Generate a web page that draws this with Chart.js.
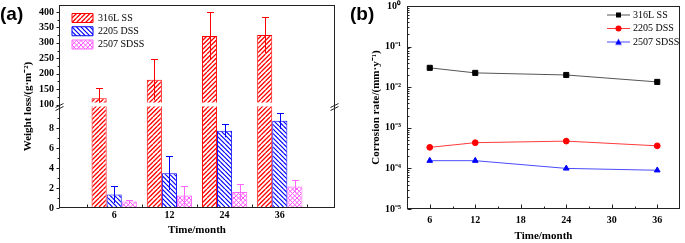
<!DOCTYPE html>
<html>
<head>
<meta charset="utf-8">
<script src="https://cdn.jsdelivr.net/npm/chart.js@4.4.1/dist/chart.umd.min.js"></script>
<style>
  html, body { margin: 0; padding: 0; background: #fff; }
  #wrap { position: relative; width: 685px; height: 243px; overflow: hidden; }
  canvas { position: absolute; top: 0; }
  #chartA { left: 0; }
  #chartB { left: 345px; }
  .tag { position: absolute; top: 3px; font: bold 19px/22px 'Liberation Sans', Arial, sans-serif; color: #000; }
</style>
</head>
<body>
<div id="wrap">
  <canvas id="chartA" width="345" height="243"></canvas>
  <canvas id="chartB" width="340" height="243"></canvas>
  <div class="tag" style="left:0">(a)</div>
  <div class="tag" style="left:350px">(b)</div>
</div>
<script>
const serif = "'Liberation Serif', 'Times New Roman', serif";

// (a) weight loss, g/m2
const months = ['6', '12', '24', '36'];
const loss316 = [120, 180, 322, 325];
const err316 = [34, 66, 77, 58];
const loss2205 = [1.35, 3.5, 7.75, 8.75];
const err2205 = [0.85, 1.7, 0.65, 0.8];
const loss2507 = [0.65, 1.25, 1.6, 2.15];
const err2507 = [0.15, 1.0, 0.8, 0.65];
const upperTicks = [100, 150, 200, 250, 300, 350, 400];
const lowerTicks = [0, 2, 4, 6, 8];

// (b) corrosion rate, mm/y
const rateMonths = [6, 12, 24, 36];
const rate316 = [0.030, 0.0225, 0.020, 0.0135];
const rate2205 = [3.3e-4, 4.3e-4, 4.7e-4, 3.6e-4];
const rate2507 = [1.55e-4, 1.55e-4, 1.0e-4, 9.0e-5];
const monthTicks = [6, 12, 18, 24, 30, 36];
const decadeTicks = [1e-5, 1e-4, 1e-3, 1e-2, 1e-1, 1];

const seriesNames = ['316L SS', '2205 DSS', '2507 SDSS'];

Chart.defaults.font.family = serif;
Chart.defaults.color = '#000';
Chart.defaults.animation = false;

// diagonal hatch fills for the bars (tile 9px, two lines per tile)
function hatch(color, kind, width) {
    const n = 9, gap = 4.5;
    const c = document.createElement('canvas');
    c.width = n; c.height = n;
    const g = c.getContext('2d');
    g.fillStyle = '#fff';
    g.fillRect(0, 0, n, n);
    g.strokeStyle = color;
    g.lineWidth = width;
    g.beginPath();
    for (let off = -2 * n; off <= 2 * n; off += gap) {
        if (kind !== 'back') { g.moveTo(off, n); g.lineTo(off + n, 0); }
        if (kind !== 'fwd') { g.moveTo(off, 0); g.lineTo(off + n, n); }
    }
    g.stroke();
    return g.createPattern(c, 'repeat');
}

function withMinors(major, max) {
    const step = major[1] - major[0];
    const vals = [];
    major.forEach(v => {
        vals.push(v);
        if (v + step / 2 < max) vals.push(v + step / 2);
    });
    return vals;
}

// no automatic label padding around the plot area
function noPad(s) {
    s.paddingTop = 0; s.paddingBottom = 0;
    s.paddingLeft = 0; s.paddingRight = 0;
}

const SUP = {'-': '\u207B', '0': '\u2070', '1': '\u00B9', '2': '\u00B2', '3': '\u00B3', '4': '\u2074', '5': '\u2075'};
const sup = n => String(n).split('').map(ch => SUP[ch]).join('');

// frame, tick marks and axis break
const axisFrame = {
    id: 'axisFrame',
    afterDatasetsDraw(chart, args, opts) {
        const {ctx, chartArea: a} = chart;
        const L = Math.round(a.left) + 0.5, R = Math.round(a.right) - 0.5;
        const T = Math.round(a.top) + 0.5, B = Math.round(a.bottom) - 0.5;
        ctx.save();
        ctx.strokeStyle = '#222';
        ctx.lineWidth = 1;
        ctx.strokeRect(L, T, R - L, B - T);
        ctx.beginPath();
        (opts.marks || []).forEach(m => {
            const s = chart.scales[m.id];
            const pts = [];
            const px = s.ticks.map((t, i) => s.getPixelForTick(i));
            if (m.at !== 'mid') {
                s.ticks.forEach((t, i) => pts.push({p: px[i], len: t.label !== '' ? opts.major : opts.minor}));
            }
            if (m.at !== 'ticks') {
                for (let i = 0; i < px.length - 1; i++) {
                    pts.push({p: (px[i] + px[i + 1]) / 2, len: m.at === 'mid' ? opts.major : opts.minor});
                }
            }
            const sign = m.dir === 'in' ? 1 : -1;
            pts.forEach(({p, len}) => {
                const q = Math.round(p) + 0.5;
                if (s.isHorizontal()) {
                    ctx.moveTo(q, B); ctx.lineTo(q, B - sign * len);
                } else {
                    ctx.moveTo(L, q); ctx.lineTo(L + sign * len, q);
                }
            });
        });
        if (opts.breakScale) {
            const y = chart.scales[opts.breakScale].bottom;
            [L, R].forEach(x => {
                ctx.moveTo(x - 4, y + 3); ctx.lineTo(x + 4, y - 1);
                ctx.moveTo(x - 4, y + 6); ctx.lineTo(x + 4, y + 2);
            });
        }
        ctx.stroke();
        ctx.restore();
    }
};

// vertical error bars from dataset.errors
const errorBars = {
    id: 'errorBars',
    afterDatasetsDraw(chart) {
        const ctx = chart.ctx;
        const a = chart.chartArea;
        chart.data.datasets.forEach((ds, i) => {
            if (!ds.errors) return;
            const meta = chart.getDatasetMeta(i);
            const ys = chart.scales[meta.yAxisID];
            const clip = ds.clip || {};
            ctx.save();
            ctx.beginPath();
            const top = ys.top - (clip.top || 0);
            const bottom = ys.bottom + (clip.bottom || 0);
            ctx.rect(a.left, top, a.right - a.left, bottom - top);
            ctx.clip();
            ctx.strokeStyle = ds.borderColor;
            ctx.lineWidth = 1;
            ctx.beginPath();
            ds.data.forEach((v, j) => {
                if (v === null) return;
                const e = ds.errors[j];
                const x = Math.round(meta.data[j].x) + 0.5;
                const yHi = Math.round(ys.getPixelForValue(v + e)) + 0.5;
                const yLo = ys.getPixelForValue(v - e);
                ctx.moveTo(x, yLo); ctx.lineTo(x, yHi);
                ctx.moveTo(x - 3.5, yHi); ctx.lineTo(x + 3.5, yHi);
            });
            ctx.stroke();
            ctx.restore();
        });
    }
};

// one y title spanning both stacked axes
const sideTitle = {
    id: 'sideTitle',
    afterDraw(chart, args, opts) {
        const {ctx, chartArea: a} = chart;
        ctx.save();
        ctx.translate(opts.x, (a.top + a.bottom) / 2);
        ctx.rotate(-Math.PI / 2);
        ctx.font = 'bold 11px ' + serif;
        ctx.fillStyle = '#000';
        ctx.textAlign = 'center';
        ctx.textBaseline = 'middle';
        ctx.fillText(opts.text, 0, 0);
        ctx.restore();
    }
};

// move the in-plot legend to its spot
const legendSpot = {
    id: 'legendSpot',
    afterLayout(chart, args, opts) {
        const lg = chart.legend;
        if (!lg) return;
        lg.left = opts.x;
        lg.top = opts.y;
        lg.right = lg.left + lg.width;
        lg.bottom = lg.top + lg.height;
    }
};

const pad = arr => [null, ...arr, null];
const catLabels = ['', ...months, ''];
const tickFont = {size: 10, weight: 'bold'};

const redFill = hatch('#ff0000', 'fwd', 1.3);
const blueFill = hatch('#0000ff', 'back', 1.2);
const pinkFill = hatch('#ff55ff', 'cross', 1);

const barBase = {borderWidth: 1, barPercentage: 1, categoryPercentage: 0.82};

new Chart(document.getElementById('chartA'), {
    type: 'bar',
    data: {
        labels: catLabels,
        datasets: [
            {...barBase, label: seriesNames[0], data: pad(loss316), errors: pad(err316), yAxisID: 'yUp', stack: 'r',
                backgroundColor: redFill, borderColor: '#ff0000', clip: {left: 0, right: 0, top: 0, bottom: -2}},
            {...barBase, label: seriesNames[1], data: pad(loss2205), errors: pad(err2205), yAxisID: 'yLow', stack: 'b',
                backgroundColor: blueFill, borderColor: '#0000ff', clip: 0},
            {...barBase, label: seriesNames[2], data: pad(loss2507), errors: pad(err2507), yAxisID: 'yLow', stack: 'p',
                backgroundColor: pinkFill, borderColor: '#ff66ff', clip: 0},
            // lower piece of the 316L bars, below the axis break
            {...barBase, label: seriesNames[0], data: pad(loss316), yAxisID: 'yLow', stack: 'r',
                backgroundColor: redFill, borderColor: '#ff0000', clip: {left: 0, right: 0, top: -2, bottom: 0}}
        ]
    },
    options: {
        responsive: false,
        events: [],
        layout: {padding: {top: 5, right: 10, left: 0, bottom: 0}},
        scales: {
            x: {
                type: 'category',
                offset: false,
                grid: {display: false, drawTicks: false},
                border: {display: false},
                ticks: {autoSkip: false, maxRotation: 0, padding: 1.5, font: tickFont},
                title: {display: true, text: 'Time/month', font: {size: 11, weight: 'bold'}, padding: {top: 0, bottom: 6}},
                afterFit: s => { s.height = 35; noPad(s); }
            },
            yLow: {
                type: 'linear', position: 'left', stack: 'loss', stackWeight: 103.5, stacked: false,
                min: 0, max: 10.39,
                grid: {display: false, drawTicks: false},
                border: {display: false},
                afterBuildTicks: s => { s.ticks = withMinors(lowerTicks, s.max).map(v => ({value: v})); },
                ticks: {autoSkip: false, padding: 5, font: tickFont, callback: v => lowerTicks.includes(v) ? String(v) : ''},
                afterFit: s => { s.width = 59; noPad(s); }
            },
            yUp: {
                type: 'linear', position: 'left', stack: 'loss', stackWeight: 99.5, stacked: false,
                min: 100, max: 422.7,
                grid: {display: false, drawTicks: false},
                border: {display: false},
                afterBuildTicks: s => { s.ticks = withMinors(upperTicks, s.max).map(v => ({value: v})); },
                ticks: {autoSkip: false, padding: 5, font: tickFont, callback: v => upperTicks.includes(v) ? String(v) : ''},
                afterFit: s => { s.width = 59; noPad(s); }
            }
        },
        plugins: {
            tooltip: {enabled: false},
            legend: {
                position: 'chartArea',
                align: 'start',
                labels: {
                    boxWidth: 21, boxHeight: 9, padding: 3.25, color: '#000',
                    font: {size: 10},
                    filter: item => item.datasetIndex < 3
                }
            },
            legendSpot: {x: 68.75, y: 9.75},
            sideTitle: {x: 28, text: 'Weight loss/(g\u00B7m\u207B\u00B2)'},
            axisFrame: {
                major: 3, minor: 2, breakScale: 'yUp',
                marks: [
                    {id: 'yUp', dir: 'out', at: 'ticks'},
                    {id: 'yLow', dir: 'out', at: 'ticks'},
                    {id: 'x', dir: 'in', at: 'mid'}
                ]
            }
        }
    },
    plugins: [errorBars, axisFrame, sideTitle, legendSpot]
});

// (b) line chart, log scale
const lineStyles = [
    {line: '#555', fill: '#000', shape: 'rect', radius: 3.6},
    {line: '#ff3b3b', fill: '#ff0000', shape: 'circle', radius: 2.9},
    {line: '#4b4bff', fill: '#0000ff', shape: 'triangle', radius: 3.3}
];
const rateSeries = [rate316, rate2205, rate2507];

function legendIcon(st) {
    const c = document.createElement('canvas');
    c.width = 23; c.height = 9;
    const g = c.getContext('2d');
    g.strokeStyle = st.line;
    g.lineWidth = 1;
    g.beginPath(); g.moveTo(0, 4.5); g.lineTo(23, 4.5); g.stroke();
    g.fillStyle = st.fill;
    g.beginPath();
    if (st.shape === 'rect') g.rect(9, 2, 5, 5);
    else if (st.shape === 'circle') g.arc(11.5, 4.5, 3, 0, Math.PI * 2);
    else { g.moveTo(11.5, 1.2); g.lineTo(14.8, 7.2); g.lineTo(8.2, 7.2); g.closePath(); }
    g.fill();
    return c;
}
const icons = lineStyles.map(legendIcon);

new Chart(document.getElementById('chartB'), {
    type: 'line',
    data: {
        datasets: rateSeries.map((vals, k) => ({
            label: seriesNames[k],
            data: rateMonths.map((m, i) => ({x: m, y: vals[i]})),
            borderColor: lineStyles[k].line,
            borderWidth: 1,
            pointStyle: lineStyles[k].shape,
            pointRadius: lineStyles[k].radius,
            pointBackgroundColor: lineStyles[k].fill,
            pointBorderColor: lineStyles[k].fill,
            pointBorderWidth: 1,
            tension: 0
        }))
    },
    options: {
        responsive: false,
        events: [],
        layout: {padding: {top: 6, right: 2, left: 0, bottom: 0}},
        scales: {
            x: {
                type: 'linear', min: 3, max: 39,
                grid: {display: false, drawTicks: false},
                border: {display: false},
                afterBuildTicks: s => { s.ticks = monthTicks.map(v => ({value: v})); },
                ticks: {autoSkip: false, maxRotation: 0, padding: 5, font: tickFont, callback: v => String(v)},
                title: {display: true, text: 'Time/month', font: {size: 11, weight: 'bold'}, padding: {top: 0, bottom: 0}},
                afterFit: s => { s.height = 34; noPad(s); }
            },
            y: {
                type: 'logarithmic', min: 1e-5, max: 1,
                grid: {display: false, drawTicks: false},
                border: {display: false},
                afterBuildTicks: s => {
                    const out = [];
                    decadeTicks.forEach((d, k) => {
                        out.push(d);
                        if (k < decadeTicks.length - 1) for (let j = 2; j <= 9; j++) out.push(d * j);
                    });
                    s.ticks = out.map(v => ({value: v}));
                },
                ticks: {
                    autoSkip: false, padding: 6, font: tickFont,
                    callback: v => decadeTicks.includes(v) ? '10' + sup(Math.round(Math.log10(v))) : ''
                },
                title: {display: true, text: 'Corrosion rate/(mm\u00B7y\u207B\u00B9)', font: {size: 11, weight: 'bold'}, padding: {top: 25, bottom: 0}},
                afterFit: s => { s.width = 62; noPad(s); }
            }
        },
        plugins: {
            tooltip: {enabled: false},
            legend: {
                position: 'chartArea',
                align: 'start',
                labels: {
                    usePointStyle: true, pointStyleWidth: 19, padding: 3.5, color: '#000',
                    font: {size: 10},
                    generateLabels: chart => chart.data.datasets.map((ds, i) => ({
                        text: ds.label, datasetIndex: i, pointStyle: icons[i], lineWidth: 0,
                        fillStyle: ds.borderColor, strokeStyle: ds.borderColor, fontColor: '#000', hidden: false
                    }))
                }
            },
            legendSpot: {x: 260.5, y: 6.5},
            axisFrame: {
                major: 4, minor: 2,
                marks: [
                    {id: 'x', dir: 'in', at: 'both'},
                    {id: 'y', dir: 'in', at: 'ticks'}
                ]
            }
        }
    },
    plugins: [axisFrame, legendSpot]
});
</script>
</body>
</html>
